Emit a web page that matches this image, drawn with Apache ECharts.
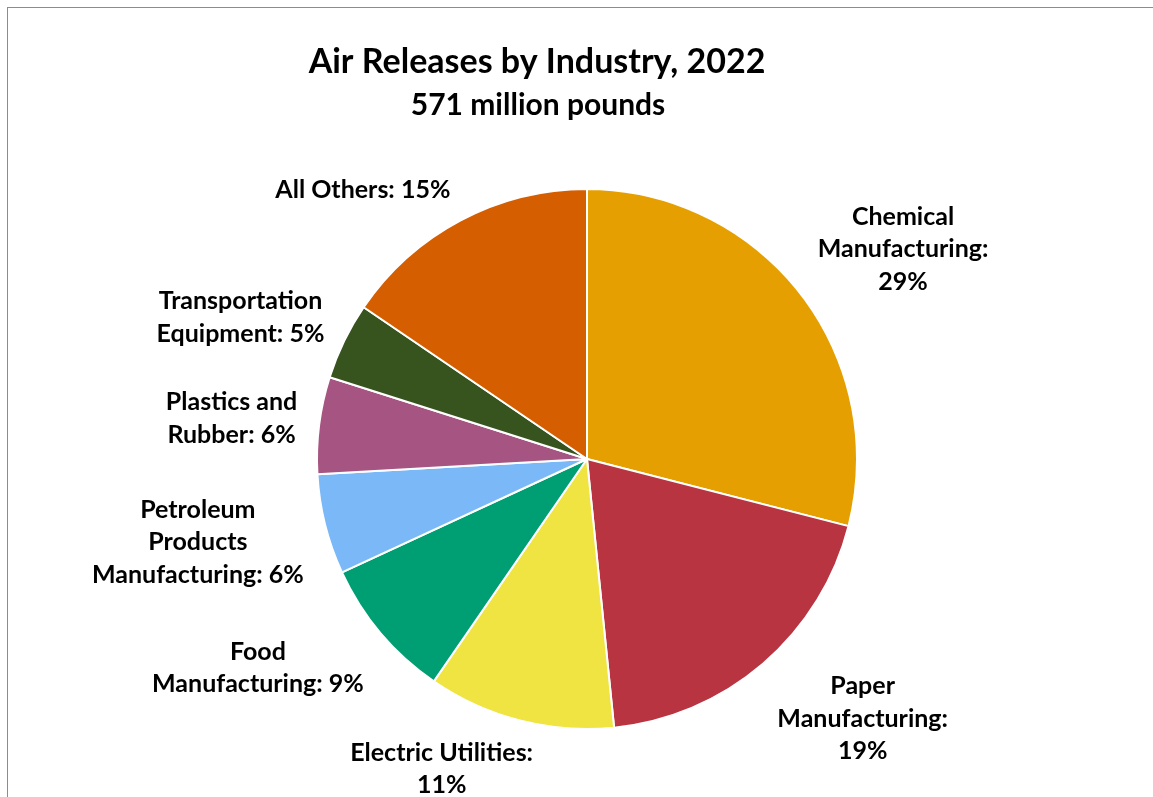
<!DOCTYPE html>
<html>
<head>
<meta charset="utf-8">
<script src="https://cdn.jsdelivr.net/npm/echarts@6/dist/echarts.min.js"></script>
<style>
html,body{margin:0;padding:0;background:#fff;}
#frame{position:absolute;left:7px;top:7px;width:1160px;height:810px;border:1.5px solid #8c8c8c;box-sizing:border-box;}
#chart{position:absolute;left:0;top:0;width:1153px;height:797px;}
</style>
</head>
<body>
<div id="frame"></div>
<div id="chart"></div>
<script>
var titleText = 'Air Releases by Industry, 2022';
var subtitleText = '571 million pounds';
var categories = ['Chemical Manufacturing', 'Paper Manufacturing', 'Electric Utilities', 'Food Manufacturing', 'Petroleum Products Manufacturing', 'Plastics and Rubber', 'Transportation Equipment', 'All Others'];
var values = [29.0, 19.4, 11.2, 8.5, 6.0, 5.8, 4.6, 15.5];
var labelTexts = ['Chemical\nManufacturing:\n29%', 'Paper\nManufacturing:\n19%', 'Electric Utilities:\n11%', 'Food\nManufacturing: 9%', 'Petroleum\nProducts\nManufacturing: 6%', 'Plastics and\nRubber: 6%', 'Transportation\nEquipment: 5%', 'All Others: 15%'];
var colors = ['#E69F00', '#B83441', '#F0E442', '#009E73', '#7AB8F8', '#A65481', '#37541F', '#D55E00'];

var FONT = 'Lato';
var chart = echarts.init(document.getElementById('chart'), null, {renderer: 'canvas'});
var CX = 587, CY = 459, R = 270, GAP = 22;
var total = values.reduce(function (a, b) { return a + b; }, 0);
var mids = [];
var acc = 0;
values.forEach(function (v) { mids.push((acc + v / 2) / total * 2 * Math.PI); acc += v; });
function clamp(v) { return Math.max(-1, Math.min(1, v)); }

chart.setOption({
  animation: false,
  title: [{
    text: titleText,
    left: 532, top: 40, textAlign: 'center',
    textStyle: {fontFamily: FONT, fontWeight: 'bold', fontSize: 34, color: '#000'}
  }, {
    text: subtitleText,
    left: 533, top: 85, textAlign: 'center',
    textStyle: {fontFamily: FONT, fontWeight: 'bold', fontSize: 30, color: '#000'}
  }],
  series: [{
    type: 'pie',
    center: [CX, CY],
    radius: [0, R],
    startAngle: 90,
    clockwise: true,
    itemStyle: {borderColor: '#fff', borderWidth: 2},
    label: {
      show: true,
      position: 'outside',
      fontFamily: FONT, fontWeight: 'bold', fontSize: 25, color: '#000',
      lineHeight: 32.5, align: 'center',
      formatter: function (p) { return labelTexts[p.dataIndex]; }
    },
    labelLine: {show: false},
    labelLayout: function (p) {
      var a = mids[p.dataIndex];
      var ux = Math.sin(a), uy = -Math.cos(a);
      var w = p.labelRect.width, h = p.labelRect.height;
      var ax = CX + ux * (R + GAP), ay = CY + uy * (R + GAP * 0.75);
      var fx = clamp(ux * 3.2), fy = clamp(uy * 1.15);
      return {x: ax + fx * w / 2, y: ay + fy * h / 2, align: 'center', verticalAlign: 'middle'};
    },
    emphasis: {disabled: true},
    data: categories.map(function (c, i) {
      return {name: c, value: values[i], itemStyle: {color: colors[i]}};
    })
  }]
});
</script>
</body>
</html>
